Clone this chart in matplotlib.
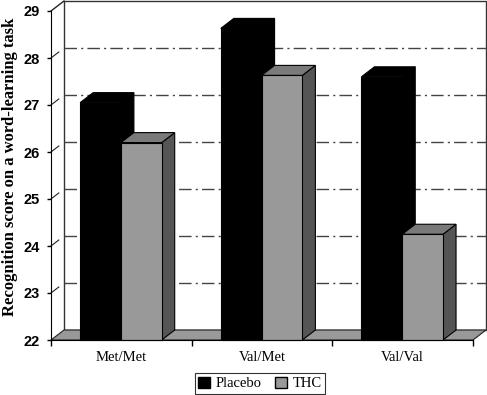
import matplotlib
matplotlib.use("Agg")
import matplotlib.pyplot as plt
from matplotlib.patches import Polygon, Rectangle, Patch

# data
genotypes = ["Met/Met", "Val/Met", "Val/Val"]
placebo = [27.05, 28.63, 27.6]
thc = [26.2, 27.63, 24.25]
y_ticks = [22, 23, 24, 25, 26, 27, 28, 29]

W, H = 487, 395
fig = plt.figure(figsize=(W / 100, H / 100), dpi=100)
ax = fig.add_axes([51 / W, 55 / H, 422 / W, 329 / H])
ax.set_xlim(0, 3)
ax.set_ylim(22, 29)
ax.patch.set_visible(False)

# 3d depth offset in data units (about 13 px right, 10 px up)
dx = 13 / (422 / 3)
dy = 10 / 47.0
ymin, ymax = 22, 29

# back wall
ax.add_patch(Rectangle((dx, ymin + dy), 3, ymax - ymin, facecolor="white",
                       edgecolor="#333333", lw=1.0, clip_on=False, zorder=1))
# side wall top edge
ax.plot([0, dx], [ymax, ymax + dy], color="#222222", lw=1.0, clip_on=False, zorder=2)

# gridlines on back wall and short marks on side wall
for v in y_ticks[1:-1]:
    ax.plot([dx, 3 + dx], [v + dy, v + dy], color="#444444", lw=1.0,
            dashes=(9, 3, 1.5, 3), clip_on=False, zorder=2)
    ax.plot([0, 0.6 * dx], [v, v + 0.6 * dy], color="#222222", lw=0.8,
            clip_on=False, zorder=2)

# floor
ax.add_patch(Polygon([(0, ymin), (3, ymin), (3 + dx, ymin + dy), (dx, ymin + dy)],
                     closed=True, facecolor="#999999", edgecolor="#222222", lw=0.8,
                     clip_on=False, zorder=3))


def bar3d(x0, w, v, front, top, side):
    x1 = x0 + w
    ax.add_patch(Polygon([(x1, ymin), (x1 + dx, ymin + dy), (x1 + dx, v + dy), (x1, v)],
                         closed=True, facecolor=side, edgecolor="black", lw=0.8,
                         clip_on=False, zorder=4))
    ax.add_patch(Polygon([(x0, v), (x1, v), (x1 + dx, v + dy), (x0 + dx, v + dy)],
                         closed=True, facecolor=top, edgecolor="black", lw=0.8,
                         clip_on=False, zorder=4))
    ax.add_patch(Rectangle((x0, ymin), w, v - ymin, facecolor=front,
                           edgecolor="black", lw=0.8, clip_on=False, zorder=4))


bw = 0.29
for i in range(len(genotypes)):
    bar3d(i + 0.207, bw, placebo[i], "black", "black", "black")
    bar3d(i + 0.207 + bw, bw, thc[i], "#999999", "#7a7a7a", "#555555")

# axes lines and ticks
for s in ["top", "right"]:
    ax.spines[s].set_visible(False)
ax.spines["left"].set_zorder(5)
ax.spines["bottom"].set_zorder(5)
ax.set_yticks(y_ticks)
ax.set_yticklabels([str(t) for t in y_ticks], fontfamily="Liberation Sans",
                   fontweight="bold", fontsize=10.5)
ax.tick_params(axis="y", direction="out", length=3, width=1, pad=5)
ax.set_xticks([0, 1, 2, 3])
ax.set_xticklabels([])
ax.set_xticks([0.5, 1.5, 2.5], minor=True)
ax.set_xticklabels(genotypes, minor=True, fontfamily="Liberation Serif", fontsize=10.5)
ax.tick_params(axis="x", which="major", direction="out", length=4.5, width=1)
ax.tick_params(axis="x", which="minor", length=0, pad=8)

ax.set_ylabel("Recognition score on a word-learning task", fontfamily="Liberation Serif",
              fontweight="bold", fontsize=12)
ax.yaxis.set_label_coords(-0.078, 0.526)

handles = [Patch(facecolor="black", edgecolor="black", label="Placebo"),
           Patch(facecolor="#999999", edgecolor="black", label="THC")]
leg = fig.legend(handles=handles, loc="center", bbox_to_anchor=(260 / W, 11.5 / H),
                 ncol=2, frameon=True, fancybox=False, edgecolor="black",
                 prop={"family": "Liberation Serif", "size": 10.5},
                 handlelength=0.8, handleheight=0.8, handletextpad=0.4,
                 columnspacing=0.9, borderpad=0.25, borderaxespad=0)
leg.get_frame().set_linewidth(0.8)

fig.savefig("out.png", dpi=100)
